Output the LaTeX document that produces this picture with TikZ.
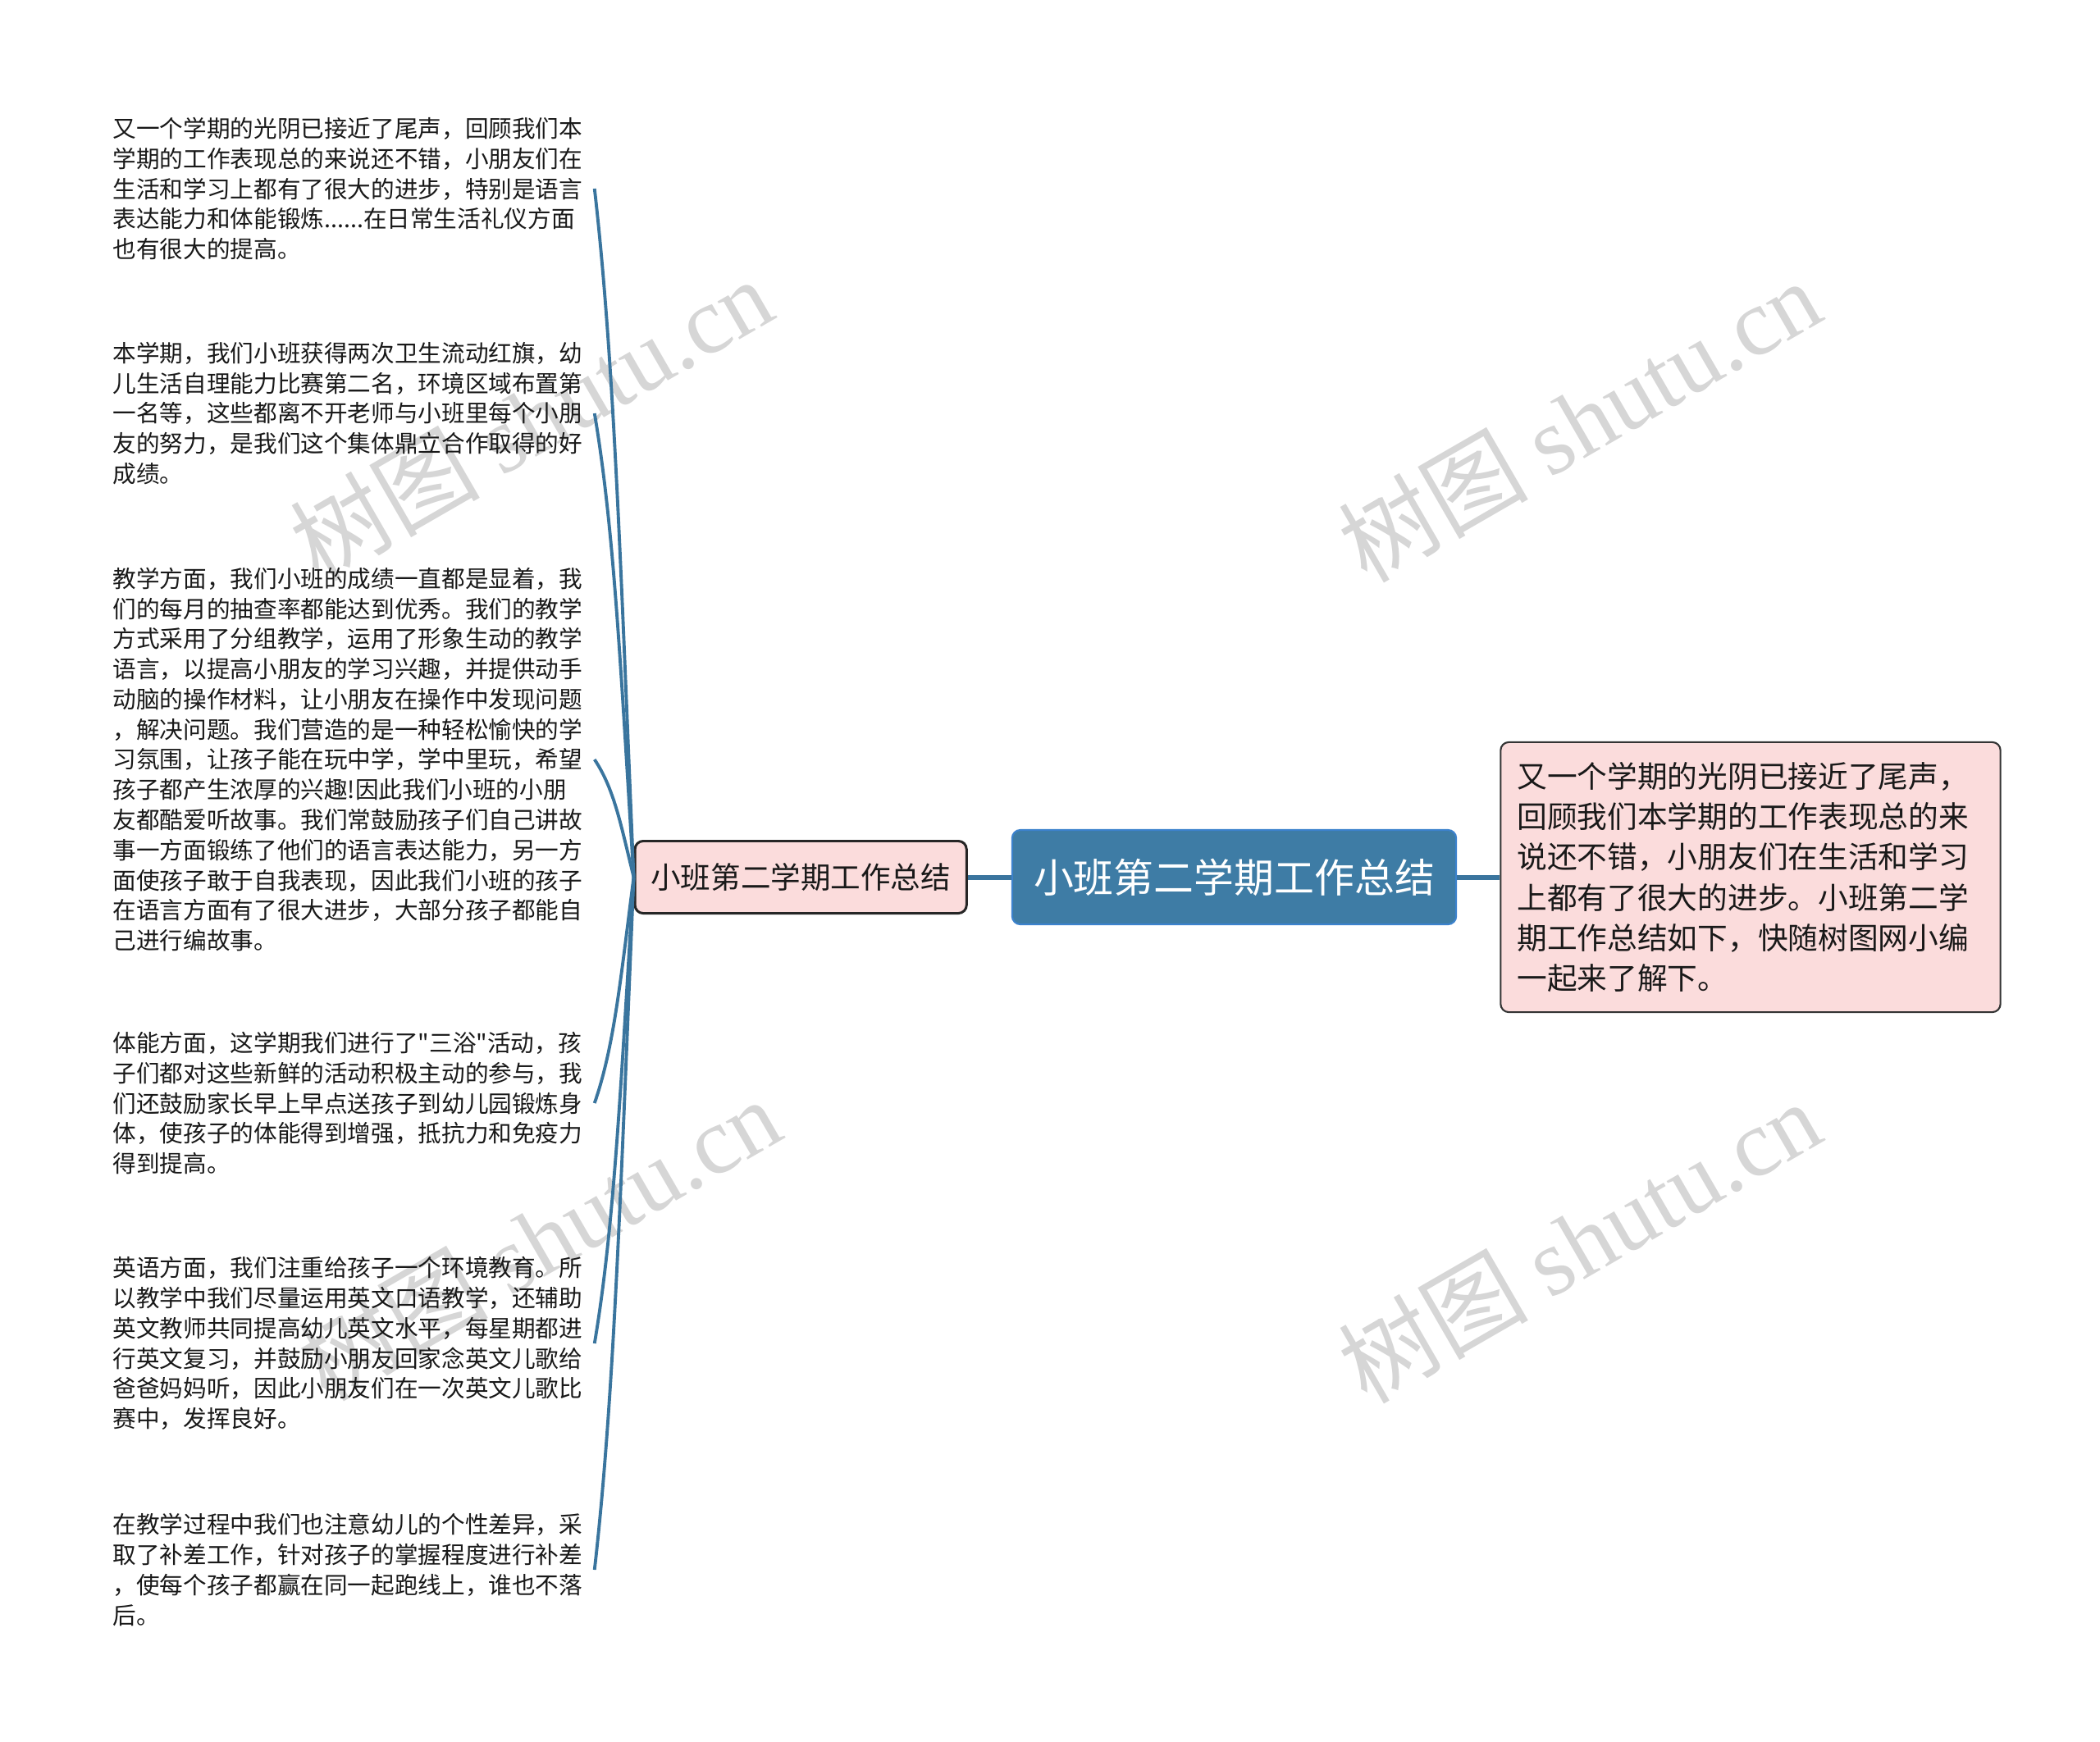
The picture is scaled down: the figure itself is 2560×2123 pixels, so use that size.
\documentclass[tikz,border=0pt]{standalone}
\usepackage{fontspec}
\newfontfamily\cjk{Noto Sans CJK SC}
\newfontfamily\wmfont{Liberation Serif}
\usepackage{tikz}
\usetikzlibrary{positioning}
\definecolor{rootblue}{RGB}{62,124,165}
\definecolor{rootedge}{RGB}{60,130,205}
\definecolor{linkblue}{RGB}{58,117,158}
\definecolor{pinkfill}{RGB}{251,220,220}
\definecolor{wmgray}{RGB}{214,214,214}

\begin{document}
\begin{tikzpicture}[x=0.01cm,y=-0.01cm,
  central/.style={draw=rootedge,line width=0.6pt,fill=rootblue,rounded corners=0.1cm,
    minimum width=5.41cm,minimum height=1.15cm,inner sep=0pt,text=white,
    font=\cjk\fontsize{13.9}{16}\selectfont},
  subtopic/.style={draw=black!85,line width=0.85pt,fill=pinkfill,rounded corners=0.1cm,
    minimum width=4.04cm,minimum height=0.88cm,inner sep=0pt,text=black!90,
    font=\cjk\fontsize{10.4}{13}\selectfont},
  summary/.style={draw=black!80,line width=0.6pt,fill=pinkfill,rounded corners=0.1cm,
    text width=5.69cm,inner xsep=0.2cm,inner ysep=0pt,minimum height=3.29cm,
    align=left,text=black!90,font=\cjk\fontsize{10.44}{13.94}\selectfont},
  leaf/.style={anchor=west,text width=5.86cm,inner sep=0pt,align=left,text=black!90,
    font=\cjk\fontsize{8.14}{10.46}\selectfont},
  link/.style={draw=linkblue,line width=1.7pt},
  twig/.style 2 args={draw=linkblue,line width=1.1pt,
    to path={.. controls +(-16,#1) and +(24,#2) .. (\tikztotarget)}},
  wmark/.style={rotate=30,text=wmgray,font=\cjk\fontsize{33}{38}\selectfont}]

  \path[fill=white] (0,0) rectangle (2560,2123);
  \useasboundingbox (0,0) rectangle (2560,2123);

  % watermarks
  \node[wmark] (wm1) at (647,510) {树图 {\wmfont shutu.cn}};
  \node[wmark] (wm2) at (1925,512) {树图 {\wmfont shutu.cn}};
  \node[wmark] (wm3) at (657,1510) {树图 {\wmfont shutu.cn}};
  \node[wmark] (wm4) at (1925,1513) {树图 {\wmfont shutu.cn}};

  \node[central] (root) at (1504.5,1069.5) {小班第二学期工作总结};
  \node[subtopic] (sub) [left=0.53cm of root] {小班第二学期工作总结};
  \node[summary] (intro) [right=0.52cm of root] {又一个学期的光阴已接近了尾声，\\
    回顾我们本学期的工作表现总的来\\
    说还不错，小朋友们在生活和学习\\
    上都有了很大的进步。小班第二学\\
    期工作总结如下，快随树图网小编\\
    一起来了解下。};

  \node[leaf] (l1) at (137,230) {又一个学期的光阴已接近了尾声，回顾我们本\\
    学期的工作表现总的来说还不错，小朋友们在\\
    生活和学习上都有了很大的进步，特别是语言\\
    表达能力和体能锻炼......在日常生活礼仪方面\\
    也有很大的提高。};
  \node[leaf] (l2) at (137,504) {本学期，我们小班获得两次卫生流动红旗，幼\\
    儿生活自理能力比赛第二名，环境区域布置第\\
    一名等，这些都离不开老师与小班里每个小朋\\
    友的努力，是我们这个集体鼎立合作取得的好\\
    成绩。};
  \node[leaf] (l3) at (137,926) {教学方面，我们小班的成绩一直都是显着，我\\
    们的每月的抽查率都能达到优秀。我们的教学\\
    方式采用了分组教学，运用了形象生动的教学\\
    语言，以提高小朋友的学习兴趣，并提供动手\\
    动脑的操作材料，让小朋友在操作中发现问题\\
    ，解决问题。我们营造的是一种轻松愉快的学\\
    习氛围，让孩子能在玩中学，学中里玩，希望\\
    孩子都产生浓厚的兴趣!因此我们小班的小朋\\
    友都酷爱听故事。我们常鼓励孩子们自己讲故\\
    事一方面锻练了他们的语言表达能力，另一方\\
    面使孩子敢于自我表现，因此我们小班的孩子\\
    在语言方面有了很大进步，大部分孩子都能自\\
    己进行编故事。};
  \node[leaf] (l4) at (137,1345) {体能方面，这学期我们进行了"三浴"活动，孩\\
    子们都对这些新鲜的活动积极主动的参与，我\\
    们还鼓励家长早上早点送孩子到幼儿园锻炼身\\
    体，使孩子的体能得到增强，抵抗力和免疫力\\
    得到提高。};
  \node[leaf] (l5) at (137,1638) {英语方面，我们注重给孩子一个环境教育。所\\
    以教学中我们尽量运用英文口语教学，还辅助\\
    英文教师共同提高幼儿英文水平，每星期都进\\
    行英文复习，并鼓励小朋友回家念英文儿歌给\\
    爸爸妈妈听，因此小朋友们在一次英文儿歌比\\
    赛中，发挥良好。};
  \node[leaf] (l6) at (137,1914) {在教学过程中我们也注意幼儿的个性差异，采\\
    取了补差工作，针对孩子的掌握程度进行补差\\
    ，使每个孩子都赢在同一起跑线上，谁也不落\\
    后。};

  \path[link]
  (root) edge (sub)
  (root) edge (intro);

  \path
  (sub.west) edge [twig={-378}{210}] (l1.east)
  (sub.west) edge [twig={-255}{142}] (l2.east)
  (sub.west) edge [twig={-65}{36}] (l3.east)
  (sub.west) edge [twig={124}{-69}] (l4.east)
  (sub.west) edge [twig={256}{-142}] (l5.east)
  (sub.west) edge [twig={380}{-211}] (l6.east)
  ;
\end{tikzpicture}
\end{document}
